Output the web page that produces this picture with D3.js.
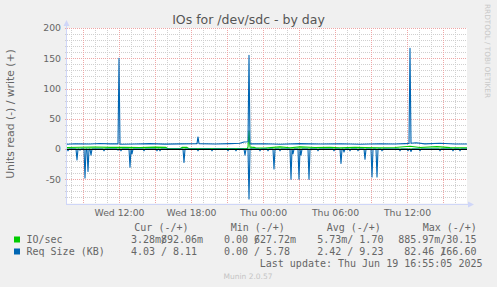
<!DOCTYPE html>
<html>
<head>
<meta charset="utf-8">
<script src="https://cdn.jsdelivr.net/npm/d3@7"></script>
<style>
  body { margin: 0; background: #f0f0f0; }
  svg { display: block; }
</style>
</head>
<body>
<svg id="chart"></svg>
<script>
// times are minutes since Wed 2025-06-18 00:00, 5 minute steps
const startMin = 460;   // Wed 07:40
const endMin = 2460;    // Thu 17:00

// Req Size (KB), write (+)
const reqWriteMin = [460, 500, 575, 625, 675, 715, 720, 725, 800, 875, 950, 1025, 1105, 1110, 1115, 1120,
  1200, 1275, 1325, 1345, 1365, 1370, 1375, 1450, 1525, 1625, 1725, 1825, 1925, 2025, 2100, 2150, 2170,
  2175, 2180, 2205, 2250, 2325, 2400, 2460];
const reqWriteVal = [7.8, 8.8, 8.4, 9.2, 8.6, 8.5, 150, 8.0, 8.3, 8.9, 8.1, 8.6, 8.9, 9.0, 20, 9.0,
  8.3, 8.9, 9.5, 11.5, 12, 155, 8.5, 8.7, 8.0, 8.9, 8.2, 8.8, 8.0, 8.7, 8.3, 8.9, 9.2,
  166.6, 9.5, 10.5, 8.6, 9.6, 8.4, 8.3];

// Req Size (KB), read (-): samples that are not zero
const reqReadMin = [465, 510, 525, 550, 565, 580, 645, 715, 730, 775, 785, 845, 910, 925, 1045, 1115,
  1185, 1265, 1305, 1350, 1370, 1425, 1465, 1495, 1525, 1580, 1590, 1620, 1630, 1670, 1715, 1795,
  1830, 1845, 1875, 1915, 1950, 1985, 2010, 2035, 2125, 2165, 2180, 2225, 2325, 2390, 2425];
const reqReadVal = [3, 18, 2, 48, 37, 10, 3, 2, 3, 30, 8, 3, 3, 3, 22, 3,
  3, 3, 3, 10, 82.46, 3, 3, 33, 3, 50, 8, 50, 10, 50, 3, 3,
  24, 5, 3, 3, 17, 46, 46, 3, 3, 3, 4, 3, 3, 3, 3];

// IO/sec, write (+)
const ioWriteMin = [460, 525, 600, 675, 750, 825, 900, 955, 965, 1025, 1035, 1060, 1070, 1360, 1365,
  1370, 1375, 1395, 1405, 1450, 1525, 1575, 1625, 1700, 1775, 1825, 1900, 1950, 2025, 2100, 2175,
  2225, 2310, 2375, 2460];
const ioWriteVal = [2.5, 2.9, 3.3, 2.8, 3.0, 2.6, 3.1, 2.8, 0.4, 0.4, 2.8, 2.8, 0.4, 0.4, 3.0,
  30.15, 3.0, 2.8, 1.6, 1.8, 3.6, 2.2, 3.6, 2.5, 2.8, 2.2, 3.0, 2.5, 2.2, 2.6, 4.5,
  2.5, 4.0, 2.4, 2.2];

// IO/sec, read (-): samples that are not zero
const ioReadMin = [1370];
const ioReadVal = [0.886];

const yTickValues = [200, 150, 100, 50, 0, -50];

const legendNames = ["IO/sec", "Req Size (KB)"];
const legendColors = ["#00cc00", "#0066b3"];
const legendHeads = ["Cur (-/+)", "Min (-/+)", "Avg (-/+)", "Max (-/+)"];
const curVals = [["3.28m", "892.06m"], ["4.03", "8.11"]];
const minVals = [["0.00", "627.72m"], ["0.00", "5.78"]];
const avgVals = [["5.73m", "1.70"], ["2.42", "9.23"]];
const maxVals = [["885.97m", "30.15"], ["82.46", "166.60"]];

const width = 497, height = 287;
const plotL = 67, plotR = 467, plotT = 28, plotB = 203.5;

const day0 = new Date(2025, 5, 18);
const at = m => new Date(day0.getTime() + m * 60000);

const x = d3.scaleTime().domain([at(startMin), at(endMin)]).range([plotL, plotR]);
const y = d3.scaleLinear().domain([-90, 200]).range([plotB, plotT]);

const svg = d3.select("#chart")
    .attr("width", width)
    .attr("height", height)
    .attr("viewBox", [0, 0, width, height]);

svg.append("rect")
    .attr("width", width).attr("height", height).attr("fill", "#f0f0f0");
svg.append("rect")
    .attr("x", plotL).attr("y", plotT)
    .attr("width", plotR - plotL).attr("height", plotB - plotT)
    .attr("fill", "#ffffff");

const crisp = v => Math.round(v) + 0.5;

// grid
const grid = svg.append("g")
    .attr("shape-rendering", "crispEdges")
    .attr("stroke-dasharray", "1,1")
    .attr("stroke-width", 1);

const hMinor = d3.range(-80, 201, 10).filter(v => v % 50 !== 0);
const hMajor = d3.range(-50, 201, 50);
const vAll = d3.timeHour.every(1).range(at(startMin), at(endMin));
const vMajor = vAll.filter(d => d.getHours() % 3 === 0);
const vMinor = vAll.filter(d => d.getHours() % 3 !== 0);

grid.selectAll(".hmin").data(hMinor).join("line")
    .attr("x1", plotL - 2).attr("x2", plotR)
    .attr("y1", d => crisp(y(d))).attr("y2", d => crisp(y(d)))
    .attr("stroke", "#cfcfcf");
grid.selectAll(".vmin").data(vMinor).join("line")
    .attr("x1", d => crisp(x(d))).attr("x2", d => crisp(x(d)))
    .attr("y1", plotT).attr("y2", plotB + 2)
    .attr("stroke", "#cfcfcf");
grid.selectAll(".hmaj").data(hMajor).join("line")
    .attr("x1", plotL - 2).attr("x2", plotR)
    .attr("y1", d => crisp(y(d))).attr("y2", d => crisp(y(d)))
    .attr("stroke", "#eea6a6");
grid.selectAll(".vmaj").data(vMajor).join("line")
    .attr("x1", d => crisp(x(d))).attr("x2", d => crisp(x(d)))
    .attr("y1", plotT).attr("y2", plotB + 2)
    .attr("stroke", "#eea6a6");

// axes
const axisColor = "#cfd6f8";
svg.append("line")
    .attr("x1", plotL - 0.5).attr("x2", plotL - 0.5)
    .attr("y1", plotB + 1).attr("y2", 23)
    .attr("stroke", axisColor);
svg.append("path")
    .attr("d", `M${plotL - 3.5},26L${plotL - 0.5},20L${plotL + 2.5},26Z`)
    .attr("fill", axisColor);
svg.append("line")
    .attr("x1", plotL - 1).attr("x2", plotR + 3)
    .attr("y1", crisp(plotB)).attr("y2", crisp(plotB))
    .attr("stroke", axisColor);
svg.append("path")
    .attr("d", `M${plotR + 1},${crisp(plotB) - 3}L${plotR + 7},${crisp(plotB)}L${plotR + 1},${crisp(plotB) + 3}Z`)
    .attr("fill", axisColor);

const textColor = "#666666";
const sans = "'DejaVu Sans', sans-serif";
const mono = "'DejaVu Sans Mono', monospace";

// y tick labels
svg.append("g").selectAll("text").data(yTickValues).join("text")
    .attr("x", 61).attr("y", d => y(d) + 3.3)
    .attr("text-anchor", "end")
    .attr("font-family", sans).attr("font-size", 9.3)
    .attr("fill", textColor)
    .text(d => d);

// x tick labels
const xLabels = vAll.filter(d => d.getHours() % 6 === 0);
svg.append("g").selectAll("text").data(xLabels).join("text")
    .attr("x", d => x(d) + 0.5).attr("y", 216)
    .attr("text-anchor", "middle")
    .attr("font-family", sans).attr("font-size", 9.3)
    .attr("fill", textColor)
    .text(d3.timeFormat("%a %H:%M"));

// title and axis title
svg.append("text")
    .attr("x", 248.5).attr("y", 24)
    .attr("text-anchor", "middle")
    .attr("font-family", sans).attr("font-size", 12.5)
    .attr("fill", "#555555")
    .text("IOs for /dev/sdc - by day");

svg.append("text")
    .attr("transform", "translate(14,114) rotate(-90)")
    .attr("text-anchor", "middle")
    .attr("font-family", sans).attr("font-size", 10.8)
    .attr("fill", textColor)
    .text("Units read (-) / write (+)");

svg.append("text")
    .attr("transform", "translate(484.5,4) rotate(90)")
    .attr("text-anchor", "start")
    .attr("font-family", sans).attr("font-size", 7.3)
    .attr("fill", "#c8c8c8")
    .text("RRDTOOL / TOBI OETIKER");

// data lines
const line = d3.line()
    .x(d => x(at(d[0])))
    .y(d => y(d[1]));

function fullSeries(mins, vals, sign) {
  const lookup = new Map(mins.map((m, i) => [m, vals[i]]));
  return d3.range(startMin, endMin + 1, 5).map(m => [m, sign * (lookup.get(m) || 0)]);
}

const series = [
  { pts: fullSeries(ioReadMin, ioReadVal, -1), color: legendColors[0] },
  { pts: ioWriteMin.map((m, i) => [m, ioWriteVal[i]]), color: legendColors[0] },
  { pts: fullSeries(reqReadMin, reqReadVal, -1), color: legendColors[1] },
  { pts: reqWriteMin.map((m, i) => [m, reqWriteVal[i]]), color: legendColors[1] },
];

svg.append("g").selectAll("path").data(series).join("path")
    .attr("fill", "none")
    .attr("stroke", d => d.color)
    .attr("stroke-width", 1.1)
    .attr("stroke-linejoin", "round")
    .attr("d", d => line(d.pts));

// zero line
svg.append("line")
    .attr("x1", plotL).attr("x2", plotR)
    .attr("y1", crisp(y(0))).attr("y2", crisp(y(0)))
    .attr("stroke", "#000000")
    .attr("shape-rendering", "crispEdges");

// legend (monospace columns, non-breaking spaces keep the padding)
const legend = svg.append("g")
    .attr("font-family", mono).attr("font-size", 10)
    .attr("fill", textColor);

const nb = "\u00a0";
const headX = [134.3, 230.7, 326.7, 422.7];
const slashX = [161, 254, 347.3, 440.3];
const rowY = [243, 255];

legend.selectAll(".head").data(legendHeads).join("text")
    .attr("x", (d, i) => headX[i]).attr("y", 231)
    .text(d => d.replace(/ /g, nb));

legendNames.forEach((name, r) => {
  svg.append("rect")
      .attr("x", 14).attr("y", rowY[r] - 6.5)
      .attr("width", 6).attr("height", 6)
      .attr("fill", legendColors[r]);
  legend.append("text")
      .attr("x", 26.5).attr("y", rowY[r])
      .text(name.replace(/ /g, nb));
  [curVals, minVals, avgVals, maxVals].forEach((col, c) => {
    const [rd, wr] = col[r];
    const rdText = (/m$/.test(rd) ? rd : rd + nb) + "/";
    const num = wr.replace(/m$/, "");
    const wrText = num.padStart(6, nb) + (/m$/.test(wr) ? "m" : nb);
    legend.append("text")
        .attr("x", slashX[c]).attr("y", rowY[r])
        .text(rdText)
        .attr("dx", -6.02 * (rdText.length - 1));
    legend.append("text")
        .attr("x", slashX[c]).attr("y", rowY[r])
        .text(wrText);
  });
});

legend.append("text")
    .attr("x", 482.5).attr("y", 267)
    .attr("text-anchor", "end")
    .text("Last update: Thu Jun 19 16:55:05 2025".replace(/ /g, nb));

svg.append("text")
    .attr("x", 248).attr("y", 279)
    .attr("text-anchor", "middle")
    .attr("font-family", sans).attr("font-size", 7.5)
    .attr("fill", "#c4c4c4")
    .text("Munin 2.0.57");
</script>
</body>
</html>
